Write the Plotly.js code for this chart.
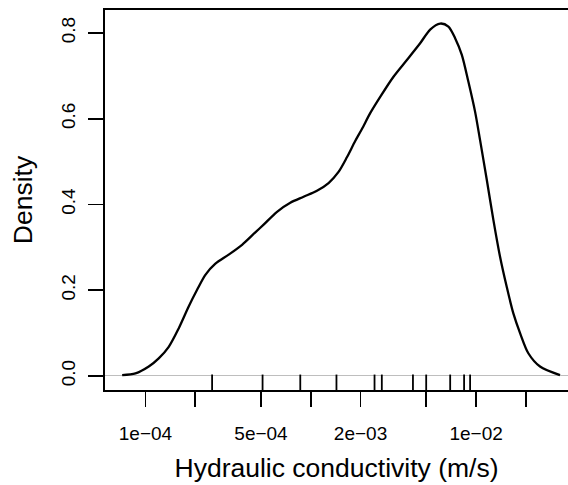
<!DOCTYPE html>
<html>
<head>
<meta charset="utf-8">
<script src="https://cdn.plot.ly/plotly-3.0.1.min.js"></script>
<style>html,body{margin:0;padding:0;background:#fff;overflow:hidden;}</style>
</head>
<body>
<div id="chart" style="width:568px;height:485px;"></div>
<script>
// Density curve: conductivity (m/s) and density
const conductivity = [7.23e-5, 8.70e-5, 1.047e-4, 1.203e-4, 1.383e-4, 1.589e-4, 1.826e-4, 2.053e-4,
  2.304e-4, 2.649e-4, 3.186e-4, 3.840e-4, 4.620e-4, 5.186e-4, 6.249e-4, 7.518e-4, 9.045e-4,
  1.090e-3, 1.281e-3, 1.472e-3, 1.654e-3, 1.857e-3, 2.039e-3, 2.288e-3, 2.630e-3, 3.164e-3,
  3.814e-3, 4.587e-3, 5.274e-3, 6.061e-3, 6.801e-3, 7.466e-3, 8.197e-3, 8.984e-3, 9.863e-3,
  1.057e-2, 1.161e-2, 1.272e-2, 1.396e-2, 1.532e-2, 1.680e-2, 1.845e-2, 2.070e-2, 2.436e-2, 3.218e-2];
const density = [0.002, 0.006, 0.022, 0.041, 0.068, 0.111, 0.162, 0.201,
  0.236, 0.262, 0.283, 0.306, 0.335, 0.353, 0.383, 0.404, 0.418,
  0.432, 0.450, 0.476, 0.510, 0.548, 0.576, 0.613, 0.651, 0.698,
  0.737, 0.776, 0.808, 0.822, 0.815, 0.788, 0.749, 0.686, 0.616,
  0.550, 0.457, 0.364, 0.278, 0.208, 0.146, 0.100, 0.053, 0.022, 0.002];
// Observations shown as rug
const observations = [2.53e-4, 5.11e-4, 8.64e-4, 1.43e-3, 2.43e-3, 2.69e-3, 4.15e-3, 4.99e-3, 6.97e-3, 8.46e-3, 9.2e-3];
// Axis ticks
const xTickVals = [1e-4, 2e-4, 5e-4, 1e-3, 2e-3, 5e-3, 1e-2, 2e-2];
const xTickText = ['1e\u221204', '', '5e\u221204', '', '2e\u221203', '', '1e\u221202', ''];
const yTickVals = [0, 0.2, 0.4, 0.6, 0.8];
const yTickText = ['0.0', '0.2', '0.4', '0.6', '0.8'];

const font = 'Liberation Sans, Arial, Helvetica, sans-serif';
const yRange = [-0.0327, 0.8536];
const rugY = observations.map(() => yRange[0] + 0.0164);

const traces = [
  {
    x: conductivity, y: density, type: 'scatter', mode: 'lines',
    line: {color: '#000', width: 2.3, shape: 'spline', smoothing: 0.8},
    hoverinfo: 'skip', showlegend: false
  },
  {
    x: observations, y: rugY, type: 'scatter', mode: 'markers',
    marker: {symbol: 'line-ns-open', size: 12, color: '#000', line: {color: '#000', width: 1.8}},
    hoverinfo: 'skip', showlegend: false, cliponaxis: false
  }
];

const layout = {
  width: 568, height: 485,
  margin: {l: 105, r: 0, t: 10, b: 95},
  paper_bgcolor: '#fff', plot_bgcolor: '#fff',
  font: {family: font, color: '#000'},
  showlegend: false,
  xaxis: {
    type: 'log', range: [-4.2447, -1.4441],
    tickmode: 'array', tickvals: xTickVals, ticktext: xTickText,
    ticks: 'outside', ticklen: 15, tickwidth: 1.7, tickcolor: '#000',
    showline: true, linecolor: '#000', linewidth: 1.7, mirror: true,
    showgrid: false, zeroline: false,
    tickfont: {size: 19, family: font, color: '#000'},
    ticklabelstandoff: 10,
    title: {text: 'Hydraulic conductivity (m/s)', font: {size: 26.5, family: font, color: '#000'}, standoff: 16}
  },
  yaxis: {
    range: yRange,
    tickmode: 'array', tickvals: yTickVals, ticktext: yTickText,
    ticks: 'outside', ticklen: 15, tickwidth: 1.7, tickcolor: '#000',
    tickangle: -90,
    showline: true, linecolor: '#000', linewidth: 1.7,
    showgrid: false,
    zeroline: true, zerolinecolor: '#bebebe', zerolinewidth: 1,
    tickfont: {size: 19, family: font, color: '#000'},
    ticklabelstandoff: 6,
    title: {text: 'Density', font: {size: 26.5, family: font, color: '#000'}, standoff: 17}
  }
};

Plotly.newPlot('chart', traces, layout, {displayModeBar: false, staticPlot: true});
</script>
</body>
</html>
